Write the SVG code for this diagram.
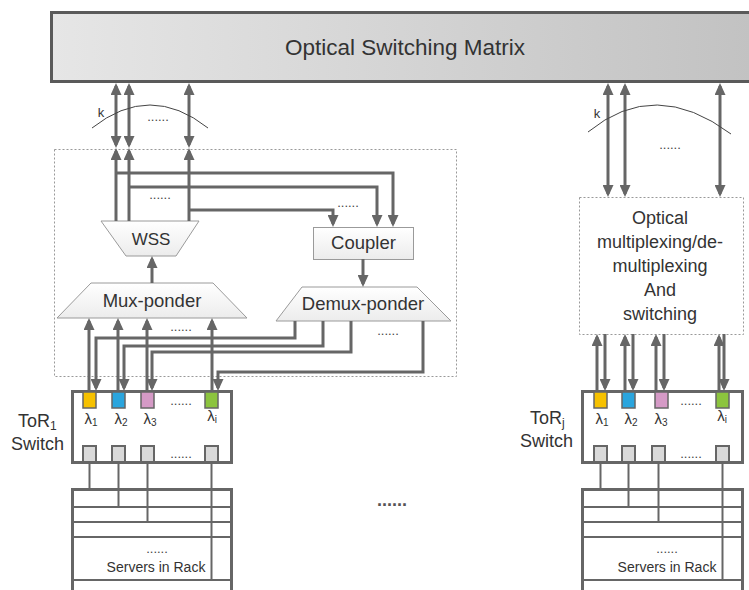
<svg xmlns="http://www.w3.org/2000/svg" width="749" height="590" viewBox="0 0 749 590">
<style>
text{font-family:"Liberation Sans",Arial,sans-serif;fill:#333}
.c{text-anchor:middle}
.lab{font-size:18.5px}
.dots{font-size:13px;text-anchor:middle;fill:#444}
.lam{font-size:15px;text-anchor:middle}
.conn{fill:none;stroke:#666;stroke-width:3;stroke-linejoin:miter}
.thin{fill:none;stroke:#444;stroke-width:1}
.dotbox{fill:#fff;stroke:#999;stroke-width:1;stroke-dasharray:2 2}
.shape{fill:url(#lg);stroke:#9a9a9a;stroke-width:1}
.tor{fill:#fff;stroke:#666;stroke-width:3}
.rack{fill:none;stroke:#666;stroke-width:3}
.rline{fill:none;stroke:#666;stroke-width:2}
.port{fill:#d9d9d9;stroke:#666;stroke-width:2}
.lp{stroke:#666;stroke-width:1.5}
</style>
<defs>
<linearGradient id="mg" x1="0" y1="0" x2="1" y2="0">
<stop offset="0" stop-color="#e6e6e6"/>
<stop offset="1" stop-color="#c2c2c2"/>
</linearGradient>
<linearGradient id="lg" x1="0" y1="0" x2="0" y2="1">
<stop offset="0" stop-color="#ffffff"/>
<stop offset="1" stop-color="#ececec"/>
</linearGradient>
<marker id="ah" viewBox="0 0 12 11" markerWidth="12" markerHeight="11" refX="9" refY="5.5" orient="auto-start-reverse" markerUnits="userSpaceOnUse">
<path d="M0,0 L12,5.5 L0,11 z" fill="#666"/>
</marker>
</defs>

<g id="matrix">
<rect x="51.5" y="12.5" width="700" height="69" fill="url(#mg)" stroke="#5a5a5a" stroke-width="3"/>
<text x="405" y="55" class="c" style="font-size:22.5px">Optical Switching Matrix</text>
</g>

<g id="left-module">
<rect x="54.5" y="149.5" width="402" height="227" class="dotbox"/>
</g>

<g id="right-module">
<rect x="579.5" y="197.5" width="164" height="137" class="dotbox"/>
<text x="660" y="224" class="c" style="font-size:18px">Optical</text>
<text x="660" y="248" class="c" style="font-size:18px">multiplexing/de-</text>
<text x="660" y="272" class="c" style="font-size:18px">multiplexing</text>
<text x="660" y="296" class="c" style="font-size:18px">And</text>
<text x="660" y="320" class="c" style="font-size:18px">switching</text>
</g>

<g id="wss">
<polygon points="101,221 199,221 176,256 126,256" class="shape"/>
<text x="151" y="245" class="c" style="font-size:17px">WSS</text>
</g>

<g id="mux-ponder">
<polygon points="91,283 213,283 247,318 57,318" class="shape"/>
<text x="152" y="307" class="c lab">Mux-ponder</text>
</g>

<g id="coupler">
<rect x="313.5" y="227.5" width="100" height="32" class="shape"/>
<text x="363.5" y="249" class="c lab">Coupler</text>
</g>

<g id="demux-ponder">
<polygon points="302,287 417,287 451,321 276,321" class="shape"/>
<text x="363" y="310" class="c lab">Demux-ponder</text>
</g>

<g id="connectors">
<!-- left top double arrows -->
<line x1="116" y1="86" x2="116" y2="145" class="conn" marker-start="url(#ah)" marker-end="url(#ah)"/>
<line x1="129" y1="86" x2="129" y2="145" class="conn" marker-start="url(#ah)" marker-end="url(#ah)"/>
<line x1="189" y1="86" x2="189" y2="145" class="conn" marker-start="url(#ah)" marker-end="url(#ah)"/>
<!-- WSS up to box edge -->
<line x1="116" y1="221" x2="116" y2="151" class="conn" marker-end="url(#ah)"/>
<line x1="129" y1="221" x2="129" y2="151" class="conn" marker-end="url(#ah)"/>
<line x1="189" y1="221" x2="189" y2="151" class="conn" marker-end="url(#ah)"/>
<!-- to coupler -->
<polyline points="116,173 393,173 393,224" class="conn" marker-end="url(#ah)"/>
<polyline points="129,187 377,187 377,224" class="conn" marker-end="url(#ah)"/>
<polyline points="189,210 333,210 333,224" class="conn" marker-end="url(#ah)"/>
<!-- mux to wss -->
<line x1="152" y1="283" x2="152" y2="259" class="conn" marker-end="url(#ah)"/>
<!-- coupler to demux -->
<line x1="363" y1="259" x2="363" y2="284" class="conn" marker-end="url(#ah)"/>
<!-- ToR1 up to mux -->
<line x1="89" y1="391" x2="89" y2="321" class="conn" marker-end="url(#ah)"/>
<line x1="118" y1="391" x2="118" y2="321" class="conn" marker-end="url(#ah)"/>
<line x1="147" y1="391" x2="147" y2="321" class="conn" marker-end="url(#ah)"/>
<line x1="212" y1="391" x2="212" y2="321" class="conn" marker-end="url(#ah)"/>
<!-- demux down to ToR1 -->
<polyline points="295,321 295,338 96,338 96,388" class="conn" marker-end="url(#ah)"/>
<polyline points="323,321 323,346 124,346 124,388" class="conn" marker-end="url(#ah)"/>
<polyline points="351,321 351,352 152,352 152,388" class="conn" marker-end="url(#ah)"/>
<polyline points="423,321 423,372 218,372 218,388" class="conn" marker-end="url(#ah)"/>
<!-- right top double arrows -->
<line x1="608" y1="86" x2="608" y2="194" class="conn" marker-start="url(#ah)" marker-end="url(#ah)"/>
<line x1="625" y1="86" x2="625" y2="194" class="conn" marker-start="url(#ah)" marker-end="url(#ah)"/>
<line x1="720" y1="86" x2="720" y2="194" class="conn" marker-start="url(#ah)" marker-end="url(#ah)"/>
<!-- right ToRj up -->
<line x1="597" y1="391" x2="597" y2="337" class="conn" marker-end="url(#ah)"/>
<line x1="625" y1="391" x2="625" y2="337" class="conn" marker-end="url(#ah)"/>
<line x1="656" y1="391" x2="656" y2="337" class="conn" marker-end="url(#ah)"/>
<line x1="719" y1="391" x2="719" y2="337" class="conn" marker-end="url(#ah)"/>
<!-- right down to ToRj -->
<line x1="605" y1="334" x2="605" y2="388" class="conn" marker-end="url(#ah)"/>
<line x1="633" y1="334" x2="633" y2="388" class="conn" marker-end="url(#ah)"/>
<line x1="664" y1="334" x2="664" y2="388" class="conn" marker-end="url(#ah)"/>
<line x1="724" y1="334" x2="724" y2="388" class="conn" marker-end="url(#ah)"/>
<!-- arcs -->
<path d="M92,128 Q150,82 208,128" class="thin"/>
<path d="M588,132 Q655,77 731,134" class="thin"/>
</g>

<g id="annotations">
<text x="101" y="117" class="c" style="font-size:13px">k</text>
<text x="597" y="118" class="c" style="font-size:13px">k</text>
<text x="158" y="121" class="dots">......</text>
<text x="160" y="199" class="dots">......</text>
<text x="348" y="207" class="dots">......</text>
<text x="181" y="331" class="dots">......</text>
<text x="388" y="335" class="dots">......</text>
<text x="670" y="149" class="dots">......</text>
<text x="392" y="506" style="font-size:18px;text-anchor:middle;font-weight:bold;fill:#555">......</text>
</g>

<g id="tor1">
<rect x="72.5" y="391.5" width="159" height="71" class="tor"/>
<rect x="83" y="392" width="13" height="16" fill="#f6c100" class="lp"/>
<rect x="112" y="392" width="13" height="16" fill="#2aa5de" class="lp"/>
<rect x="141" y="392" width="13" height="16" fill="#d59ac6" class="lp"/>
<rect x="205" y="392" width="13" height="16" fill="#8cc43e" class="lp"/>
<text x="91" y="424" class="lam">λ<tspan font-size="10" dy="2">1</tspan></text>
<text x="121" y="424" class="lam">λ<tspan font-size="10" dy="2">2</tspan></text>
<text x="150" y="424" class="lam">λ<tspan font-size="10" dy="2">3</tspan></text>
<text x="212" y="421" class="lam">λ<tspan font-size="10" dy="2">i</tspan></text>
<text x="181" y="405" class="dots">......</text>
<rect x="83" y="446" width="13" height="16" class="port"/>
<rect x="112" y="446" width="13" height="16" class="port"/>
<rect x="141" y="446" width="13" height="16" class="port"/>
<rect x="205" y="446" width="13" height="16" class="port"/>
<text x="181" y="458" class="dots">......</text>
<text x="18" y="427" style="font-size:18px">ToR<tspan font-size="12" dy="3">1</tspan></text>
<text x="11" y="450" style="font-size:18px">Switch</text>
</g>

<g id="rack1">
<polyline points="72.5,592 72.5,489.5 231.5,489.5 231.5,592" class="rack"/>
<line x1="72" y1="507" x2="232" y2="507" class="rline"/>
<line x1="72" y1="522" x2="232" y2="522" class="rline"/>
<line x1="72" y1="537" x2="232" y2="537" class="rline"/>
<line x1="72" y1="580" x2="232" y2="580" class="rline"/>
<line x1="89.5" y1="463" x2="89.5" y2="489" class="rline"/>
<line x1="118.5" y1="463" x2="118.5" y2="507" class="rline"/>
<line x1="147.5" y1="463" x2="147.5" y2="522" class="rline"/>
<line x1="211.5" y1="463" x2="211.5" y2="580" class="rline"/>
<text x="157" y="553" class="dots">......</text>
<text x="156" y="572" class="c" style="font-size:14px">Servers in Rack</text>
</g>

<g id="torj">
<rect x="582.5" y="391.5" width="160" height="71" class="tor"/>
<rect x="594" y="392" width="13" height="16" fill="#f6c100" class="lp"/>
<rect x="622" y="392" width="13" height="16" fill="#2aa5de" class="lp"/>
<rect x="655" y="392" width="13" height="16" fill="#d59ac6" class="lp"/>
<rect x="716" y="392" width="13" height="16" fill="#8cc43e" class="lp"/>
<text x="602" y="424" class="lam">λ<tspan font-size="10" dy="2">1</tspan></text>
<text x="631" y="424" class="lam">λ<tspan font-size="10" dy="2">2</tspan></text>
<text x="661" y="424" class="lam">λ<tspan font-size="10" dy="2">3</tspan></text>
<text x="722" y="421" class="lam">λ<tspan font-size="10" dy="2">i</tspan></text>
<text x="691" y="405" class="dots">......</text>
<rect x="594" y="446" width="13" height="16" class="port"/>
<rect x="622" y="446" width="13" height="16" class="port"/>
<rect x="652" y="446" width="13" height="16" class="port"/>
<rect x="716" y="446" width="13" height="16" class="port"/>
<text x="691" y="458" class="dots">......</text>
<text x="530" y="424" style="font-size:18px">ToR<tspan font-size="12" dy="3">j</tspan></text>
<text x="520" y="447" style="font-size:18px">Switch</text>
</g>

<g id="rackj">
<polyline points="582.5,592 582.5,489.5 742.5,489.5 742.5,592" class="rack"/>
<line x1="582" y1="507" x2="743" y2="507" class="rline"/>
<line x1="582" y1="522" x2="743" y2="522" class="rline"/>
<line x1="582" y1="537" x2="743" y2="537" class="rline"/>
<line x1="582" y1="580" x2="743" y2="580" class="rline"/>
<line x1="600.5" y1="463" x2="600.5" y2="489" class="rline"/>
<line x1="628.5" y1="463" x2="628.5" y2="507" class="rline"/>
<line x1="658.5" y1="463" x2="658.5" y2="522" class="rline"/>
<line x1="722.5" y1="463" x2="722.5" y2="580" class="rline"/>
<text x="667" y="553" class="dots">......</text>
<text x="667" y="572" class="c" style="font-size:14px">Servers in Rack</text>
</g>
</svg>
